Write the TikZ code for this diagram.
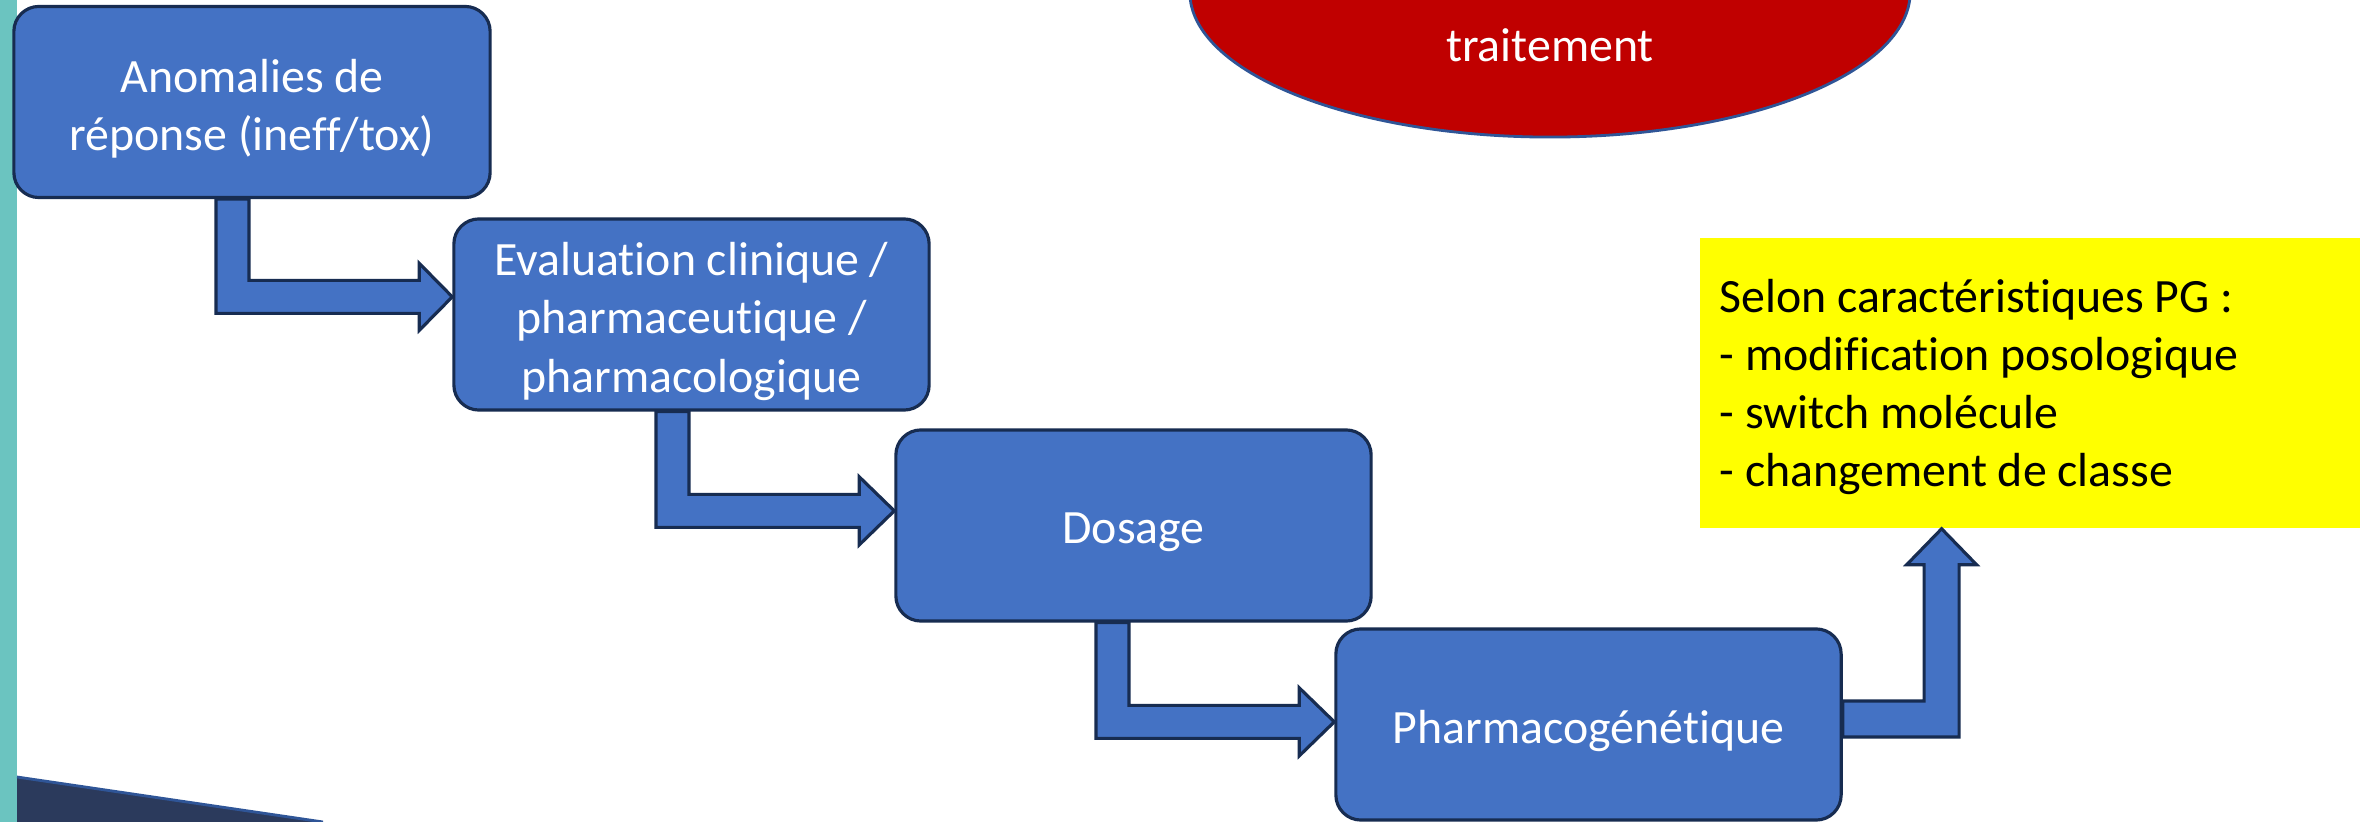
\documentclass[tikz,border=0pt]{standalone}
\usepackage{fontspec}
\setmainfont{Carlito}[Ligatures={CommonOff,ContextualOff,RareOff}]
\usetikzlibrary{calc,shapes.geometric}
\definecolor{boxblue}{HTML}{4472C4}
\definecolor{boxedge}{HTML}{172C51}
\definecolor{ellred}{HTML}{C00000}
\definecolor{elledge}{HTML}{2F5597}
\definecolor{stripteal}{HTML}{6BC4C0}
\definecolor{navyband}{HTML}{2B3A5C}
\definecolor{notey}{HTML}{FFFF00}
\newcommand\stepbox[4]{% name, position, width, text
  \node[box, minimum width=#3] (#1) at (#2) {};
  \node[boxtext] (#1-t) at ($(#1.center)+(0,7)$) {#4};}
\begin{document}
\begin{tikzpicture}[x=0.01cm,y=-0.01cm,
  txt/.style={font=\fontsize{13.6}{16.5}\selectfont},
  box/.style={draw=boxedge, fill=boxblue, line width=0.9pt, rounded corners=0.25cm,
    inner sep=0pt, minimum height=1.91cm},
  boxtext/.style={txt, text=white, align=center, inner sep=0pt},
  blockarrow/.style={draw=boxedge, fill=boxblue, line width=0.9pt, line join=miter}]
\useasboundingbox (0,0) rectangle (2364,822);
\fill[white] (0,0) rectangle (2364,822);
% decorative elements
\fill[stripteal] (0,0) rectangle (17,822);
\fill[navyband] (17,777) -- (323,822) -- (17,822) -- cycle;
\draw[elledge, line width=0.8pt] (17,777) -- (323,822);
% red ellipse (cut by the top edge)
\begin{scope}
  \clip (0,0) rectangle (2364,822);
  \node[ellipse, draw=elledge, fill=ellred, line width=0.8pt, minimum width=7.2cm,
    minimum height=2.9cm, inner sep=0pt] (ell) at (1550,-8) {};
\end{scope}
\node[txt, text=white, anchor=base, inner sep=0pt] (elltxt) at (1550,62) {traitement};
% yellow note
\node[fill=notey, minimum width=6.6cm, minimum height=2.9cm, inner sep=0pt] (yb) at (2030,383) {};
\node[txt, anchor=west, align=left, inner sep=0pt] (ytxt) at (1719,387)
  {Selon caractéristiques PG :\\- modification posologique\\- switch molécule\\- changement de classe};
% boxes
\stepbox{b1}{252,102}{4.76cm}{Anomalies de\\réponse (ineff/tox)}
\stepbox{b2}{691.5,314.5}{4.75cm}{Evaluation clinique /\\pharmaceutique /\\pharmacologique}
\stepbox{b3}{1133.5,525.5}{4.75cm}{Dosage}
\stepbox{b4}{1588.5,724.5}{5.05cm}{Pharmacogénétique}
% bent block arrows
\coordinate (s1) at (216,0);
\coordinate (t1) at ($(b2.north west)+(0,79.5)$);
\draw[blockarrow] (s1 |- b1.south) |- ($(t1)+(-33,16.5)$) -- ++(0,17) -- (t1)
  -- ++(-33,-33.5) -- ++(0,17) -| ($(s1 |- b1.south)+(33,0)$) -- cycle;
\coordinate (s2) at (656,0);
\coordinate (t2) at ($(b3.north west)+(0,82.5)$);
\draw[blockarrow] (s2 |- b2.south) |- ($(t2)+(-35,16.5)$) -- ++(0,17.5) -- (t2)
  -- ++(-35,-34) -- ++(0,17.5) -| ($(s2 |- b2.south)+(33,0)$) -- cycle;
\coordinate (s3) at (1096,0);
\coordinate (t3) at ($(b4.north west)+(0,94.5)$);
\draw[blockarrow] (s3 |- b3.south) |- ($(t3)+(-35,16.5)$) -- ++(0,17.5) -- (t3)
  -- ++(-35,-34) -- ++(0,17.5) -| ($(s3 |- b3.south)+(33,0)$) -- cycle;
\coordinate (a4top) at (0,701);
\coordinate (a4bot) at (0,737);
\coordinate (t4) at ($(yb.south west)+(242.5,0)$);
\draw[blockarrow] (b4.east |- a4top) -| ($(t4)+(-17.5,36)$) -- ++(-17.5,0) -- (t4)
  -- ++(35,36) -- ++(-17.5,0) |- (b4.east |- a4bot) -- cycle;
\end{tikzpicture}
\end{document}
